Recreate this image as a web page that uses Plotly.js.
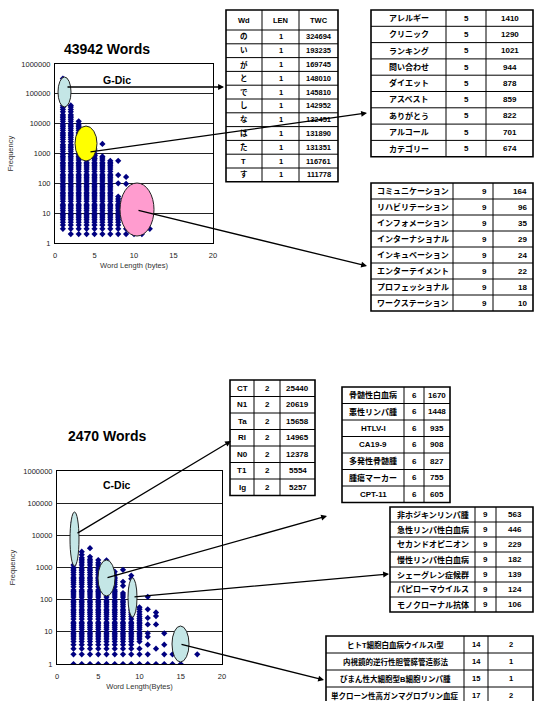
<!DOCTYPE html>
<html><head><meta charset="utf-8">
<script src="https://cdn.plot.ly/plotly-3.0.1.min.js"></script>
<style>html,body{margin:0;padding:0;background:#fff;}#chart{width:535px;height:701px;}</style>
</head><body><div id="chart"></div>
<script>
// ---------- G-Dic (43942 words): frequency values per word length ----------
const G1 = [3,4,5,6,7,8,9,10,12,14,16,18,20,25,30,35,40,45,50,60,70,80,90,100,120,140,160,180,200,250,300,350,400,450,500,600,700,800,900,1000,1200,1400,1600,1800,2000,2500,3000,3500,4000,4500,5000,6000,7000,8000,9000,10000,12000,14000,16000,18000,20000,25000,30000,35000,40000,50000,60000,70000,80000,90000,100000,111778,116761,131351,131890,132451,142952,145810,148010,169745,193235,324694];
const G2 = [2,3,4,5,6,7,8,9,10,12,14,16,18,20,25,30,35,40,45,50,60,70,80,90,100,120,140,160,180,200,250,300,350,400,450,500,600,700,800,900,1000,1200,1400,1600,1800,2000,2500,3000,3500,4000,4500,5000,6000,7000,8000,9000,10000,12000,14000,16000,18000,20000,25000,30000,36000,41000];
const G3 = [2,3,4,5,6,7,8,9,10,12,14,16,18,20,25,30,35,40,45,50,60,70,80,90,100,120,140,160,180,200,250,300,350,400,450,500,600,700,800,900,1000,1200,1400,1600,1800,2000,2500,3000,3500,4000,4500,5000,6000,7000,8000,9000,10000,12000];
const G4 = [2,3,4,5,6,7,8,9,10,12,14,16,18,20,25,30,35,40,45,50,60,70,80,90,100,120,140,160,180,200,250,300,350,400,450,500,600,700,800,900,1000,1200,1400,1600,1800,2000,2500,3000,3500,4000,5000,6000];
const G5 = [2,3,4,5,6,7,8,9,10,12,14,16,18,20,25,30,35,40,45,50,60,70,80,90,100,120,140,160,180,200,250,300,350,400,450,500,600,674,701,822,859,878,944,1021,1290,1410];
const G6 = [2,3,4,5,6,7,8,9,10,12,14,16,18,20,25,30,35,40,45,50,60,70,80,90,100,120,140,160,180,200,250,300,350,400,450,500,600,700,800,2100];
const G7 = [2,3,4,5,6,7,8,9,10,12,14,16,18,20,25,30,35,40,45,50,60,70,80,90,100,120,140,160,180,200,250,300,350,400,450,500,570];
const G8 = [2,3,4,5,6,7,8,9,10,12,14,16,18,20,25,30,36,100,190,570];
const G9 = [2,3,4,5,6,7,8,10,18,22,24,29,35,96,164];
const G10 = [2,3,4,5,6,8,10,13,17];
const G11 = [2,3,5,7];
const G12 = [3];
const gLengths = [1,2,3,4,5,6,7,8,9,10,11,12];
const gFreqs = [G1,G2,G3,G4,G5,G6,G7,G8,G9,G10,G11,G12];

// ---------- C-Dic (2470 words) ----------
const C2 = [1,2,3,4,5,6,7,8,9,10,12,14,16,18,20,25,30,35,40,45,50,60,70,80,90,100,120,140,160,180,200,250,300,350,400,450,500,600,700,800,900,1000,1200,5257,5554,12378,14965,15658,20619,25440];
const C3 = [1,2,3,4,5,6,7,8,9,10,12,14,16,18,20,25,30,35,40,45,50,60,70,80,90,100,120,140,160,180,200,250,300,350,400,450,500,600,700,800,900,1000,1200,1400,1600,1800,2000,2500,3100];
const C4 = [1,2,3,4,5,6,7,8,9,10,12,14,16,18,20,25,30,35,40,45,50,60,70,80,90,100,120,140,160,180,200,250,300,350,400,450,500,600,700,800,900,1000,1200,1400,1600,1800,2150,4000];
const C5 = [1,2,3,4,5,6,7,8,9,10,12,14,16,18,20,25,30,35,40,45,50,60,70,80,90,100,120,140,160,180,200,250,300,350,400,450,500,600,700,800,900,1000,1200,1400,1700];
const C6 = [1,2,3,4,5,6,7,8,9,10,12,14,16,18,20,25,30,35,40,45,50,60,70,80,90,100,120,140,160,180,200,250,300,350,400,450,500,605,755,827,908,935,1448,1670];
const C7 = [1,2,3,4,5,6,7,8,9,10,12,14,16,18,20,25,30,35,40,45,50,60,70,80,90,100,120,140,160,180,200,250,300,350,400,450,500,600,740];
const C8 = [1,2,3,4,5,6,7,8,9,10,12,14,16,18,20,25,30,35,40,45,50,60,70,80,90,100,120,140,160,270,360,850];
const C9 = [1,2,3,4,5,6,7,8,9,10,12,14,16,18,20,25,30,35,40,45,50,60,70,80,90,106,124,139,182,229,446,563];
const C10 = [1,2,3,5,6,7,8,9,10,12,14,16,18,20,23,26,30,35,42,50,58];
const C11 = [1,2,4,7,9,17,27,50,123];
const C12 = [1,3,17,31,40];
const C13 = [1,2,4,9];
const C14 = [1,2];
const C15 = [1];
const C17 = [2];
const cLengths = [2,3,4,5,6,7,8,9,10,11,12,13,14,15,17];
const cFreqs = [C2,C3,C4,C5,C6,C7,C8,C9,C10,C11,C12,C13,C14,C15,C17];

const yTickVals = [1,10,100,1000,10000,100000,1000000];
const yTickText = ['1','10','100','1000','10000','100000','1000000'];
const xTickVals = [0,5,10,15,20];

// ---------- tables ----------
const t1Head = ['Wd','LEN','TWC'];
const t1Word = ['の','い','が','と','で','し','な','は','た','T','す'];
const t1Len = [1,1,1,1,1,1,1,1,1,1,1];
const t1Twc = [324694,193235,169745,148010,145810,142952,132451,131890,131351,116761,111778];

const t2Word = ['アレルギー','クリニック','ランキング','問い合わせ','ダイエット','アスベスト','ありがとう','アルコール','カテゴリー'];
const t2Len = [5,5,5,5,5,5,5,5,5];
const t2Twc = [1410,1290,1021,944,878,859,822,701,674];

const t3Word = ['コミュニケーション','リハビリテーション','インフォメーション','インターナショナル','インキュベーション','エンターテイメント','プロフェッショナル','ワークステーション'];
const t3Len = [9,9,9,9,9,9,9,9];
const t3Twc = [164,96,35,29,24,22,18,10];

const t4Word = ['CT','N1','Ta','RI','N0','T1','Ig'];
const t4Len = [2,2,2,2,2,2,2];
const t4Twc = [25440,20619,15658,14965,12378,5554,5257];

const t5Word = ['骨髄性白血病','悪性リンパ腫','HTLV-I','CA19-9','多発性骨髄腫','腫瘍マーカー','CPT-11'];
const t5Len = [6,6,6,6,6,6,6];
const t5Twc = [1670,1448,935,908,827,755,605];

const t6Word = ['非ホジキンリンパ腫','急性リンパ性白血病','セカンドオピニオン','慢性リンパ性白血病','シェーグレン症候群','パピローマウイルス','モノクローナル抗体'];
const t6Len = [9,9,9,9,9,9,9];
const t6Twc = [563,446,229,182,139,124,106];

const t7Word = ['ヒトT細胞白血病ウイルスI型','内視鏡的逆行性胆管膵管造影法','びまん性大細胞型B細胞リンパ腫','単クローン性高ガンマグロブリン血症'];
const t7Len = [14,14,15,17];
const t7Twc = [2,1,1,2];

// ---------- helpers ----------
const W = 535, H = 701;
const px = v => v / W;
const py = v => 1 - v / H;
const FONT = 'Liberation Sans, Arial, Noto Sans CJK JP, sans-serif';

function flatten(lengths, freqs) {
  const xs = [], ys = [];
  lengths.forEach((L, i) => freqs[i].forEach(f => { xs.push(L); ys.push(f); }));
  return {xs, ys};
}
const gPts = flatten(gLengths, gFreqs);
const cPts = flatten(cLengths, cFreqs);

const marker = {symbol: 'diamond', size: 4.8, color: '#000080', line: {width: 0}};
const traces = [
  {type: 'scatter', mode: 'markers', x: gPts.xs, y: gPts.ys, xaxis: 'x', yaxis: 'y', marker, hoverinfo: 'skip'},
  {type: 'scatter', mode: 'markers', x: cPts.xs, y: cPts.ys, xaxis: 'x2', yaxis: 'y2', marker, hoverinfo: 'skip'}
];

const shapes = [];
const annotations = [];

function line(x0, y0, x1, y1, w) {
  shapes.push({type: 'line', xref: 'paper', yref: 'paper', x0: px(x0), y0: py(y0), x1: px(x1), y1: py(y1),
    line: {color: 'black', width: w}, layer: 'above'});
}
function cellText(text, x, y, anchor, size) {
  annotations.push({xref: 'paper', yref: 'paper', x: px(x), y: py(y), xanchor: anchor, yanchor: 'middle',
    text: '<b>' + text + '</b>', showarrow: false, font: {family: FONT, size, color: 'black'}});
}
// cols: list of column arrays (first entry of each = first row); box: [left, right, top]
function table(cols, box, widths, headH, rowH, aligns, fsize) {
  const [x0, x1, y0] = box;
  const nr = cols[0].length;
  const tw = widths.reduce((a, b) => a + b, 0);
  const xs = [x0];
  widths.forEach(w => xs.push(xs[xs.length - 1] + w * (x1 - x0) / tw));
  const ys = [y0];
  for (let r = 0; r < nr; r++) ys.push(ys[r] + (r === 0 ? headH : rowH));
  const yb = ys[nr];
  for (let r = 1; r < nr; r++) line(x0, ys[r], x1, ys[r], 1);
  for (let c = 1; c < cols.length; c++) line(xs[c], y0, xs[c], yb, 1);
  shapes.push({type: 'rect', xref: 'paper', yref: 'paper', x0: px(x0), x1: px(x1), y0: py(yb), y1: py(y0),
    line: {color: 'black', width: 1.6}, fillcolor: 'rgba(0,0,0,0)', layer: 'above'});
  cols.forEach((col, c) => {
    const al = Array.isArray(aligns) ? aligns[c] : aligns;
    col.forEach((v, r) => {
      const yc = (ys[r] + ys[r + 1]) / 2;
      if (al === 'left') cellText(String(v), xs[c] + 4, yc, 'left', fsize);
      else if (al === 'right') cellText(String(v), xs[c + 1] - 4, yc, 'right', fsize);
      else cellText(String(v), (xs[c] + xs[c + 1]) / 2, yc, 'center', fsize);
    });
  });
}

// ellipses
function ell(x0, x1, y0, y1, fill) {
  shapes.push({type: 'circle', xref: 'paper', yref: 'paper', x0: px(x0), x1: px(x1), y0: py(y1), y1: py(y0),
    fillcolor: fill, line: {color: '#222', width: 1}, layer: 'above'});
}
ell(58, 71, 77, 107, '#c4e6e6');
ell(75, 97, 126, 161, '#ffff00');
ell(120, 154, 183, 236, '#ff9ccf');
ell(70, 79, 512, 566, '#c4e6e6');
ell(98, 115, 560, 596, '#c4e6e6');
ell(128, 137, 578, 617, '#c4e6e6');
ell(172, 189, 626, 662, '#c4e6e6');

table([[t1Head[0], ...t1Word], [t1Head[1], ...t1Len], [t1Head[2], ...t1Twc]], [226, 338, 10], [36, 37, 39], 20, 13.8, 'center', 7.5);
table([t2Word, t2Len, t2Twc], [371, 533, 10], [75, 40, 47], 16.3, 16.3, 'center', 8);
table([t3Word, t3Len, t3Twc], [371, 533, 183], [82, 40, 40], 16, 16, ['left', 'right', 'right'], 8);
table([t4Word, t4Len, t4Twc], [230, 315, 380], [24, 26, 35], 16.5, 16.5, 'center', 8);
table([t5Word, t5Len, t5Twc], [342, 450, 387], [62, 20, 26], 16.5, 16.5, 'center', 8);
table([t6Word, t6Len, t6Twc], [390, 533, 507], [85, 21, 37], 15, 15, 'center', 8);
table([t7Word, t7Len, t7Twc], [326, 533, 636], [138, 24, 45], 17, 17, 'center', 7.5);

function arrow(tx, ty, hx, hy) {
  annotations.push({xref: 'paper', yref: 'paper', x: px(hx), y: py(hy), ax: tx - hx, ay: ty - hy,
    text: '', showarrow: true, arrowhead: 2, arrowsize: 0.9, arrowwidth: 1.3, arrowcolor: 'black', standoff: 0});
}
arrow(66, 87, 224, 87);
arrow(89, 152, 367, 113);
arrow(137, 210, 367, 266);
arrow(76, 534, 231, 441);
arrow(106, 578, 327, 516);
arrow(133, 597, 389, 574);
arrow(180, 644, 324, 680);

function label(text, x, y, size) {
  annotations.push({xref: 'paper', yref: 'paper', x: px(x), y: py(y), xanchor: 'center', yanchor: 'middle',
    text, showarrow: false, font: {family: FONT, size, color: 'black'}});
}
label('<b>43942 Words</b>', 107, 49, 14);
label('<b>G-Dic</b>', 117, 80, 10.5);
label('<b>2470 Words</b>', 107, 436, 14);
label('<b>C-Dic</b>', 117, 485, 10.5);

function xax(domain, title) {
  return {domain, range: [0, 20], tickvals: xTickVals, showgrid: false, zeroline: false,
    showline: true, mirror: true, linecolor: 'black', linewidth: 1,
    ticks: 'outside', ticklen: 5, tickcolor: 'rgba(0,0,0,0)',
    tickfont: {family: FONT, size: 7.5, color: '#222'}, automargin: false, fixedrange: true,
    title: {text: title, font: {family: FONT, size: 7.5, color: '#333'}, standoff: 3}};
}
function yax(domain) {
  return {domain, type: 'log', range: [0, 6], tickvals: yTickVals, ticktext: yTickText,
    showgrid: true, gridcolor: '#222', gridwidth: 1, zeroline: false,
    showline: true, mirror: true, linecolor: 'black', linewidth: 1,
    ticks: 'outside', ticklen: 2, tickcolor: 'rgba(0,0,0,0)',
    tickfont: {family: FONT, size: 7.5, color: '#222'}, automargin: false, fixedrange: true,
    title: {text: 'Frequency', font: {family: FONT, size: 7.5, color: '#333'}, standoff: 6}};
}

const layout = {
  width: W, height: H, margin: {l: 0, r: 0, t: 0, b: 0},
  paper_bgcolor: 'white', plot_bgcolor: 'white', showlegend: false, hovermode: false,
  xaxis: Object.assign(xax([px(55), px(213)], 'Word Length (bytes)'), {anchor: 'y'}),
  yaxis: Object.assign(yax([py(243), py(64)]), {anchor: 'x'}),
  xaxis2: Object.assign(xax([px(57), px(222)], 'Word Length(Bytes)'), {anchor: 'y2'}),
  yaxis2: Object.assign(yax([py(664), py(471)]), {anchor: 'x2'}),
  shapes, annotations
};
Plotly.newPlot('chart', traces, layout, {staticPlot: true, displayModeBar: false});
</script></body></html>
